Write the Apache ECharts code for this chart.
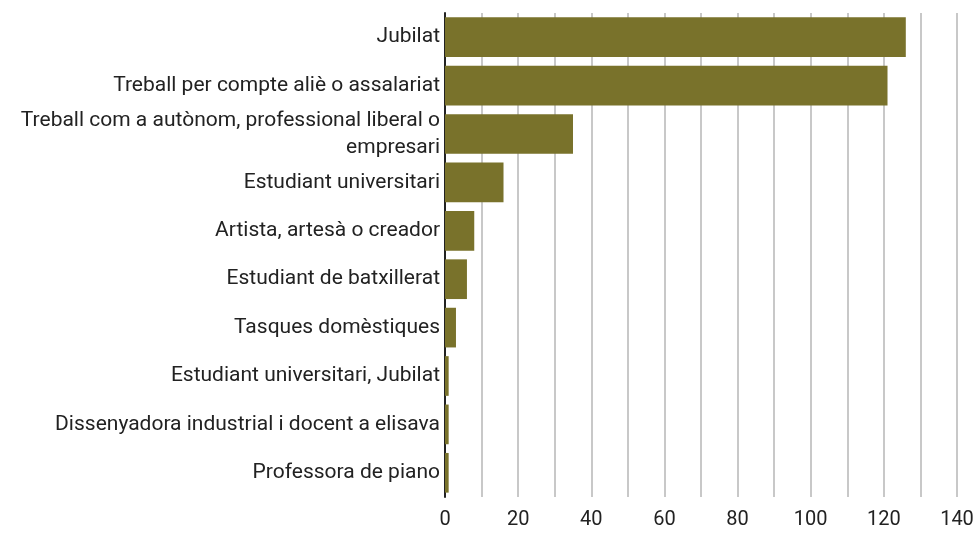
<!DOCTYPE html>
<html>
<head>
<meta charset="utf-8">
<script src="https://cdn.jsdelivr.net/npm/echarts@6/dist/echarts.min.js"></script>
<style>
  html, body { margin: 0; padding: 0; background: #fff; }
  #chart { width: 978px; height: 537px; }
</style>
</head>
<body>
<div id="chart"></div>
<script>
// categories, top to bottom
var categories = [
  'Jubilat',
  'Treball per compte aliè o assalariat',
  'Treball com a autònom, professional liberal o\nempresari',
  'Estudiant universitari',
  'Artista, artesà o creador',
  'Estudiant de batxillerat',
  'Tasques domèstiques',
  'Estudiant universitari, Jubilat',
  'Dissenyadora industrial i docent a elisava',
  'Professora de piano'
]
var counts = [126, 121, 35, 16, 8, 6, 3, 1, 1, 1]
var xTicks = [0, 20, 40, 60, 80, 100, 120, 140]

var chart = echarts.init(document.getElementById('chart'))
chart.setOption({
  animation: false,
  textStyle: { fontFamily: 'Roboto' },
  grid: {
    left: 445,
    right: 21,
    top: 13,
    bottom: 40
  },
  xAxis: {
    type: 'value',
    min: 0,
    max: 140,
    interval: 10,
    axisLine: { show: false },
    axisTick: { show: false },
    splitLine: { lineStyle: { color: '#c8c8c8', width: 2 } },
    axisLabel: {
      color: '#222',
      fontSize: 20,
      margin: 13,
      formatter: function (v) {
        return xTicks.indexOf(v) >= 0 ? String(v) : ''
      }
    }
  },
  yAxis: {
    type: 'category',
    data: categories,
    inverse: true,
    axisLine: { show: true, lineStyle: { color: '#222', width: 2 } },
    axisTick: { show: false },
    axisLabel: {
      color: '#222',
      fontSize: 21,
      margin: 5,
      lineHeight: 27,
      align: 'right'
    }
  },
  series: [
    {
      type: 'bar',
      data: counts,
      barCategoryGap: '18%',
      itemStyle: { color: '#79722b' }
    }
  ]
})
</script>
</body>
</html>
